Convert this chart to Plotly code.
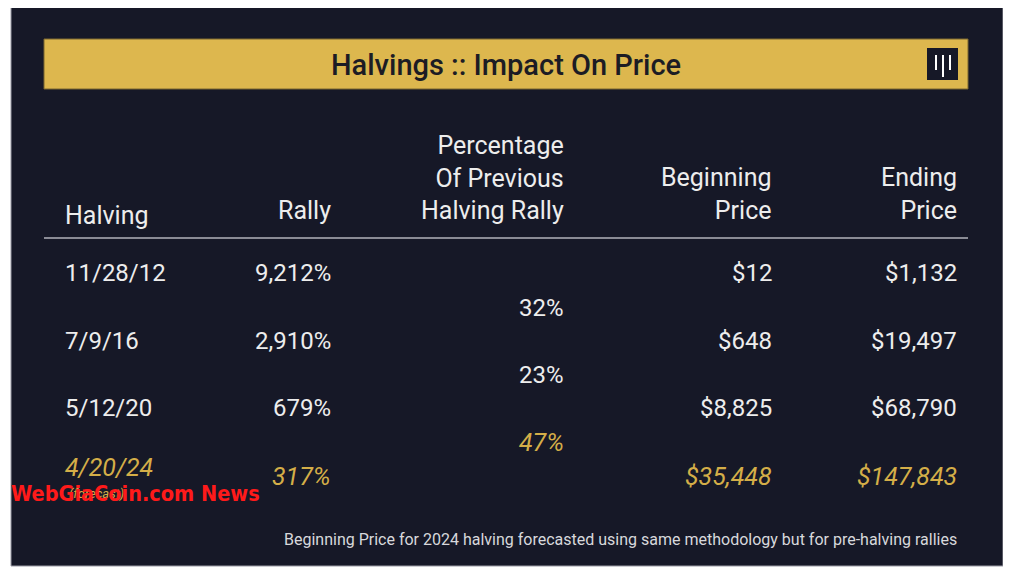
import plotly.graph_objects as go

# ---- data ----
title = "Halvings :: Impact On Price"
col_headers = ["Halving", "Rally", "Percentage<br>Of Previous<br>Halving Rally", "Beginning<br>Price", "Ending<br>Price"]
halvings = ["11/28/12", "7/9/16", "5/12/20", "4/20/24"]
rallies = ["9,212%", "2,910%", "679%", "317%"]
pct_prev = ["32%", "23%", "47%"]
begin_price = ["$12", "$648", "$8,825", "$35,448"]
end_price = ["$1,132", "$19,497", "$68,790", "$147,843"]
forecast_flags = [False, False, False, True]
footnote = "Beginning Price for 2024 halving forecasted using same methodology but for pre-halving rallies"
watermark = "WebGiaCoin.com News"

# ---- style ----
W, H = 1011, 572
OFF = 8  # page body margin
BG = "#161827"
GOLD = "#DDB74E"
GOLD_TXT = "#D4AE48"
WHITE = "#EDEDED"
FONT = "Roboto"

fig = go.Figure()
fig.update_layout(
    width=W - OFF, height=H - OFF, margin=dict(l=0, r=0, t=0, b=0),
    paper_bgcolor="white", plot_bgcolor="white",
    xaxis=dict(range=[OFF, W], visible=False, fixedrange=True),
    yaxis=dict(range=[H, OFF], visible=False, fixedrange=True),
    showlegend=False,
)

shapes = [
    dict(type="rect", x0=11, x1=1003, y0=7, y1=566, fillcolor=BG,
         line=dict(color="#9a9aa5", width=1), layer="below"),
    dict(type="rect", x0=44, x1=968, y0=39, y1=89, fillcolor=GOLD,
         line=dict(color="#7a6630", width=1), layer="below"),
    dict(type="rect", x0=927, x1=958, y0=48, y1=80, fillcolor=BG, line_width=0),
    dict(type="line", x0=44, x1=968, y0=238, y1=238, line=dict(color="#8a8b95", width=2)),
]
for xb, y1 in [(936, 70), (943, 77), (950, 70)]:
    shapes.append(dict(type="line", x0=xb, x1=xb, y0=55, y1=y1, line=dict(color="white", width=2)))
fig.update_layout(shapes=shapes)

ann = []
def txt(x, y, s, size=23, color=WHITE, anchor="left", italic=False, yanchor="middle", family=FONT, weight=None):
    f = dict(family=family, size=size, color=color)
    if italic:
        f["style"] = "italic"
    if weight:
        f["weight"] = weight
    ann.append(dict(x=x, y=y, xref="x", yref="y", text=s, showarrow=False,
                    xanchor=anchor, yanchor=yanchor, align=anchor if anchor != "center" else "center",
                    font=f))

txt(506, 65, title, size=29, color="#1c1c24", anchor="center", weight=500)

col_x = [63, 333, 566, 774, 959]
col_anchor = ["left", "right", "right", "right", "right"]
for i, h in enumerate(col_headers):
    yb = 232 if i == 0 else 227
    ann.append(dict(x=col_x[i], y=yb, xref="x", yref="y", text=h, showarrow=False,
                    xanchor=col_anchor[i], yanchor="bottom", align=col_anchor[i],
                    font=dict(family=FONT, size=25, color=WHITE)))

row_y = [273, 341, 408, 476]
mid_y = [308, 375, 442]
for i in range(len(halvings)):
    fc = forecast_flags[i]
    c = GOLD_TXT if fc else WHITE
    sz = 25 if fc else 24
    txt(col_x[0], row_y[i] - (9 if fc else 0), halvings[i], color=c, italic=fc, size=sz)
    txt(col_x[1], row_y[i], rallies[i], color=c, italic=fc, anchor="right", size=sz)
    txt(col_x[3], row_y[i], begin_price[i], color=c, italic=fc, anchor="right", size=sz)
    txt(col_x[4], row_y[i], end_price[i], color=c, italic=fc, anchor="right", size=sz)
    if fc:
        txt(col_x[0] + 4, 493, "(forecast)", size=13, color=GOLD_TXT, italic=True)
for i, p in enumerate(pct_prev):
    fc = forecast_flags[i + 1] and i == len(pct_prev) - 1
    txt(col_x[2], mid_y[i], p, color=GOLD_TXT if fc else WHITE, italic=fc, anchor="right",
        size=25 if fc else 24)

txt(959, 539, footnote, size=16, color="#d8d8dc", anchor="right")
txt(9, 493, watermark, size=21.5, color="#ff1a1a", anchor="left", family="DejaVu Sans Condensed, DejaVu Sans", weight="bold")

fig.update_layout(annotations=ann)
fig.write_html("out.html")
